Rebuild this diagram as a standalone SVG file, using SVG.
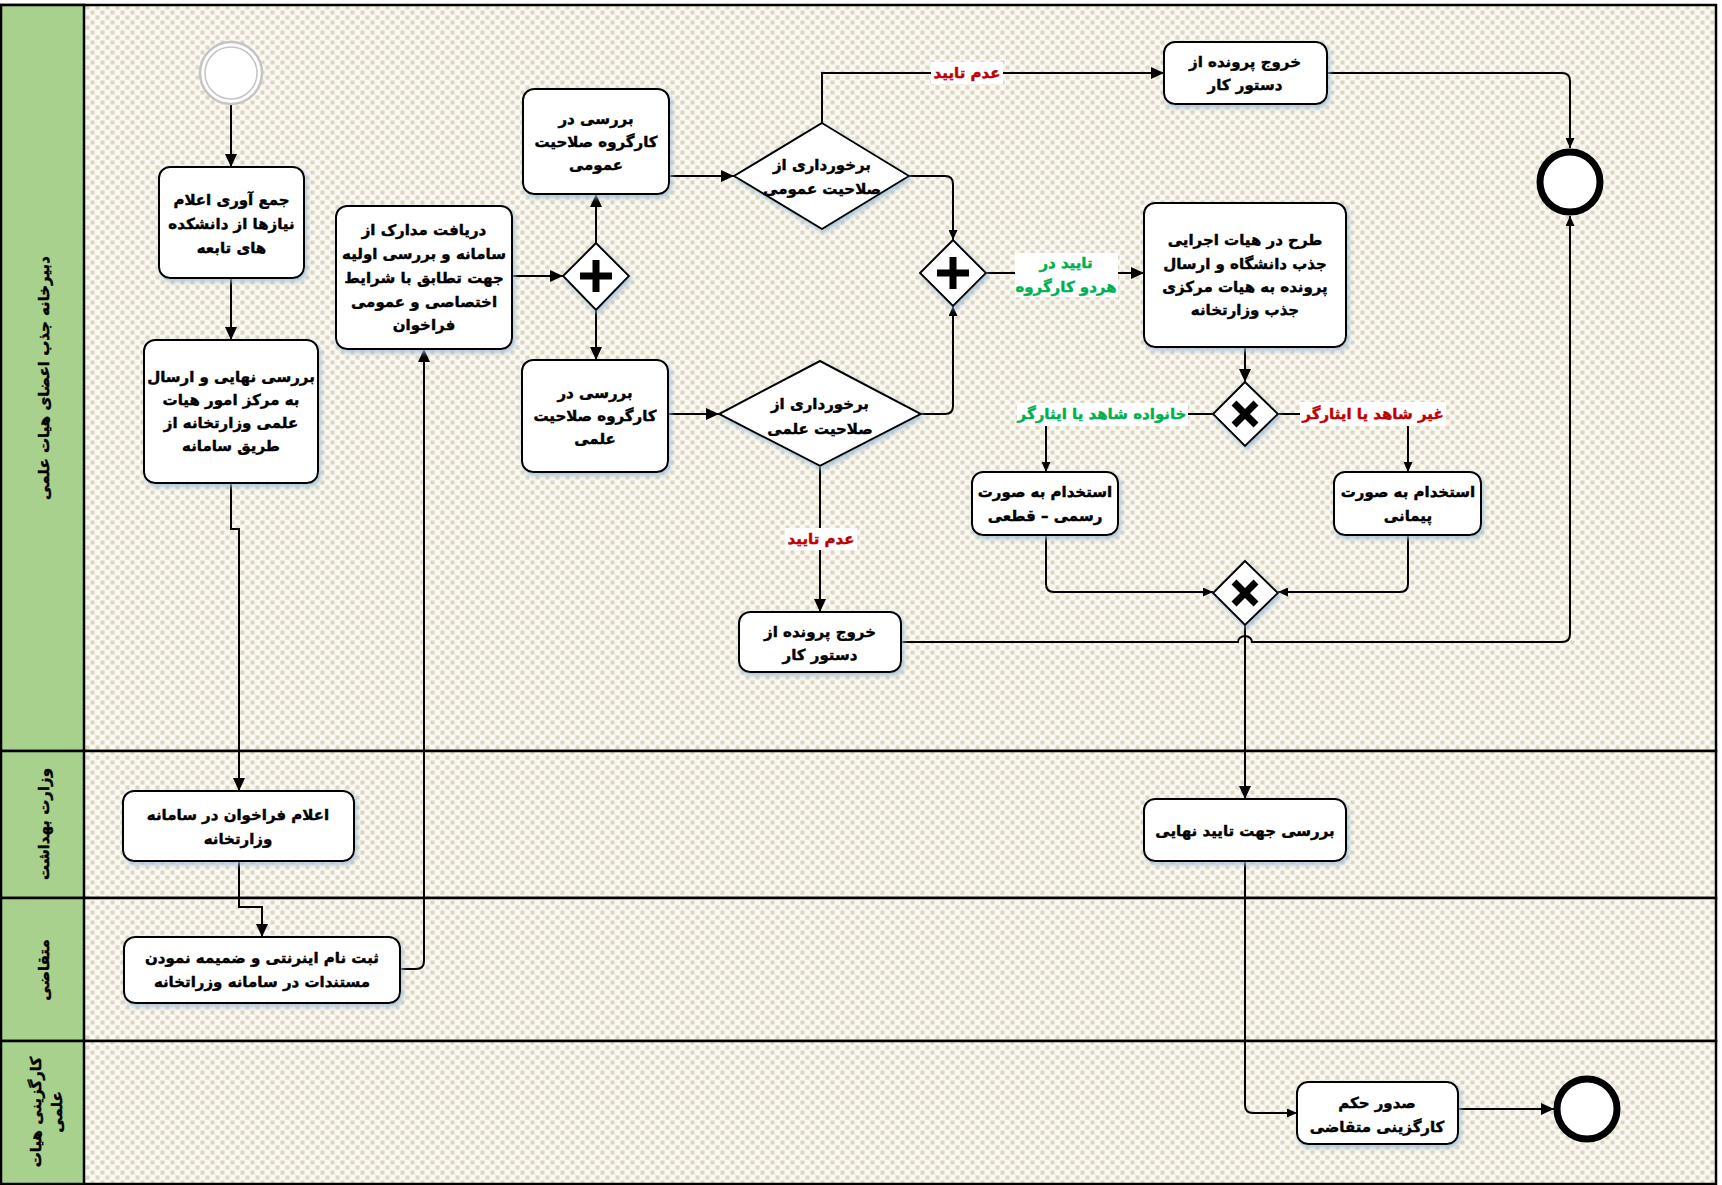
<svg xmlns="http://www.w3.org/2000/svg" width="1722" height="1185" viewBox="0 0 1722 1185">
<defs>
<pattern id="dots" width="10" height="10" patternUnits="userSpaceOnUse">
<rect width="10" height="10" fill="#faf8f2"/>
<rect x="0.5" y="0.5" width="4" height="4" fill="#dcd5bf"/>
<rect x="5.5" y="5.5" width="4" height="4" fill="#dcd5bf"/>
</pattern>
<marker id="arr" markerWidth="13" markerHeight="12" refX="13" refY="6" orient="auto" markerUnits="userSpaceOnUse">
<path d="M0,0 L13,6 L0,12 Z" fill="#000"/>
</marker>
<marker id="arrs" markerWidth="10" markerHeight="9" refX="10" refY="4.5" orient="auto" markerUnits="userSpaceOnUse">
<path d="M0,0 L10,4.5 L0,9 Z" fill="#000"/>
</marker>
<filter id="sh" x="-10%" y="-10%" width="125%" height="130%">
<feDropShadow dx="2" dy="3" stdDeviation="2.5" flood-color="#9fbdd6" flood-opacity="0.8"/>
</filter>
</defs>
<style>
.lane{fill:url(#dots);stroke:#000;stroke-width:2.5}
.hdr{fill:#a9d18e;stroke:#000;stroke-width:2.5}
.task{fill:#fff;stroke:#000;stroke-width:2;filter:url(#sh)}
.gw{fill:#fff;stroke:#000;stroke-width:2;filter:url(#sh)}
.t{font-family:"DejaVu Sans",sans-serif;font-weight:bold;font-size:15px;fill:#000;stroke:#000;stroke-width:0.45;text-anchor:middle;dominant-baseline:central}
.lt{font-family:"DejaVu Sans",sans-serif;font-weight:bold;font-size:15px;fill:#000;stroke:#000;stroke-width:0.45;text-anchor:middle;dominant-baseline:central}
.g{fill:#00b050;stroke:#00b050}
.r{fill:#c00000;stroke:#c00000}
.c{fill:none;stroke:#000;stroke-width:2}
.ca{fill:none;stroke:#000;stroke-width:2;marker-end:url(#arr)}
.cs{fill:none;stroke:#000;stroke-width:2;marker-end:url(#arrs)}
.lbg{fill:#fff}
.mark{stroke:#000;stroke-width:7;fill:none}
</style>

<g id="pool">
<rect class="lane" x="1" y="5" width="1715" height="746"/>
<rect class="lane" x="1" y="751" width="1715" height="147"/>
<rect class="lane" x="1" y="898" width="1715" height="143"/>
<rect class="lane" x="1" y="1041" width="1715" height="143"/>
<rect class="hdr" x="1" y="5" width="83" height="746"/>
<rect class="hdr" x="1" y="751" width="83" height="147"/>
<rect class="hdr" x="1" y="898" width="83" height="143"/>
<rect class="hdr" x="1" y="1041" width="83" height="143"/>
<text class="lt" transform="translate(44,378) rotate(-90)">دبیرخانه جذب اعضای هیات علمی</text>
<text class="lt" transform="translate(44,824) rotate(-90)">وزارت بهداشت</text>
<text class="lt" transform="translate(44,970) rotate(-90)">متقاضی</text>
<text class="lt" transform="translate(36,1112) rotate(-90)">کارگزینی هیات</text>
<text class="lt" transform="translate(57,1112) rotate(-90)">علمی</text>
</g>

<g id="connectors">
<path class="ca" d="M231,104 V167"/>
<path class="ca" d="M231,278 V340"/>
<path class="ca" d="M231,483 V529 H239 V791"/>
<path class="ca" d="M239,861 V907 H262 V937"/>
<path class="ca" d="M400,969 H416 Q424,969 424,961 V349"/>
<path class="ca" d="M512,276 H563"/>
<path class="ca" d="M596,243 V194"/>
<path class="ca" d="M596,310 V360"/>
<path class="ca" d="M669,176 H734"/>
<path class="ca" d="M668,414 H719"/>
<path class="ca" d="M822,123 V73 H1164"/>
<path class="cs" d="M1327,73 H1562 Q1570,73 1570,81 V148"/>
<path class="cs" d="M909,176 H945 Q953,176 953,184 V240"/>
<path class="cs" d="M921,414 H945 Q953,414 953,406 V306"/>
<path class="ca" d="M820,466 V612"/>
<path class="ca" d="M986,273 H1144"/>
<path class="ca" d="M1245,347 V382"/>
<path class="cs" d="M1213,414 H1054 Q1046,414 1046,422 V472"/>
<path class="cs" d="M1278,414 H1400 Q1408,414 1408,422 V472"/>
<path class="cs" d="M1046,535 V584 Q1046,592 1054,592 H1213"/>
<path class="cs" d="M1408,535 V584 Q1408,592 1400,592 H1278"/>
<path class="ca" d="M1245,625 V799"/>
<path class="cs" d="M901,642 H1238 A7,6 0 0 1 1252,642 H1562 Q1570,642 1570,634 V216"/>
<path class="cs" d="M1245,861 V1105 Q1245,1113 1253,1113 H1297"/>
<path class="ca" d="M1458,1109 H1554"/>
<rect class="lbg" x="931" y="62" width="72" height="22"/>
<text class="t r" x="967" y="73">عدم تایید</text>
<rect class="lbg" x="785" y="528" width="72" height="22"/>
<text class="t r" x="821" y="539">عدم تایید</text>
<rect class="lbg" x="1015" y="253" width="103" height="44"/>
<text class="t g" x="1066" y="263">تایید در</text>
<text class="t g" x="1066" y="287">هردو کارگروه</text>
<rect class="lbg" x="1017" y="403" width="171" height="23"/>
<text class="t g" x="1102" y="414">خانواده شاهد یا ایثارگر</text>
<rect class="lbg" x="1300" y="402" width="146" height="24"/>
<text class="t r" x="1373" y="414">غیر شاهد یا ایثارگر</text>
</g>

<g id="start">
<circle cx="231" cy="73" r="31" fill="#fff" stroke="#c4c4c4" stroke-width="2.5"/>
<circle cx="231" cy="73" r="26" fill="#fff" stroke="#c4c4c4" stroke-width="1.5"/>
</g>

<g id="t-collect">
<rect class="task" x="159" y="167" width="145" height="111" rx="11"/>
<text class="t" x="231.5" y="200">جمع آوری اعلام</text>
<text class="t" x="231.5" y="224">نیازها از دانشکده</text>
<text class="t" x="231.5" y="248">های تابعه</text>
</g>

<g id="t-final-send">
<rect class="task" x="144" y="340" width="174" height="143" rx="11"/>
<text class="t" x="231" y="377">بررسی نهایی و ارسال</text>
<text class="t" x="231" y="400">به مرکز امور هیات</text>
<text class="t" x="231" y="423">علمی وزارتخانه از</text>
<text class="t" x="231" y="446">طریق سامانه</text>
</g>

<g id="t-receive">
<rect class="task" x="336" y="206" width="176" height="143" rx="11"/>
<text class="t" x="424" y="230">دریافت مدارک از</text>
<text class="t" x="424" y="254">سامانه و بررسی اولیه</text>
<text class="t" x="424" y="278">جهت تطابق با شرایط</text>
<text class="t" x="424" y="302">اختصاصی و عمومی</text>
<text class="t" x="424" y="325">فراخوان</text>
</g>

<g id="gw-split">
<path class="gw" d="M596,243 L629,276 L596,310 L563,276 Z"/>
<path class="mark" d="M596,260 V292 M580,276 H612"/>
</g>

<g id="t-general">
<rect class="task" x="523" y="89" width="146" height="105" rx="11"/>
<text class="t" x="596" y="119">بررسی در</text>
<text class="t" x="596" y="142">کارگروه صلاحیت</text>
<text class="t" x="596" y="165">عمومی</text>
</g>

<g id="t-scientific">
<rect class="task" x="522" y="360" width="146" height="112" rx="11"/>
<text class="t" x="595" y="393">بررسی در</text>
<text class="t" x="595" y="416">کارگروه صلاحیت</text>
<text class="t" x="595" y="439">علمی</text>
</g>

<g id="d-general">
<path class="gw" d="M822,123 L909,176 L822,229 L734,176 Z"/>
<text class="t" x="822" y="165">برخورداری از</text>
<text class="t" x="822" y="189">صلاحیت عمومی</text>
</g>

<g id="d-scientific">
<path class="gw" d="M820,361 L921,414 L820,466 L719,414 Z"/>
<text class="t" x="820" y="404">برخورداری از</text>
<text class="t" x="820" y="429">صلاحیت علمی</text>
</g>

<g id="gw-join">
<path class="gw" d="M953,240 L986,273 L953,306 L920,273 Z"/>
<path class="mark" d="M953,257 V289 M937,273 H969"/>
</g>

<g id="t-exit-top">
<rect class="task" x="1164" y="42" width="163" height="62" rx="11"/>
<text class="t" x="1245" y="62">خروج پرونده از</text>
<text class="t" x="1245" y="85">دستور کار</text>
</g>

<g id="end-top">
<circle cx="1570" cy="182" r="30" fill="#fff" stroke="#000" stroke-width="7"/>
</g>

<g id="t-board">
<rect class="task" x="1144" y="203" width="202" height="144" rx="11"/>
<text class="t" x="1245" y="240">طرح در هیات اجرایی</text>
<text class="t" x="1245" y="264">جذب دانشگاه و ارسال</text>
<text class="t" x="1245" y="287">پرونده به هیات مرکزی</text>
<text class="t" x="1245" y="310">جذب وزارتخانه</text>
</g>

<g id="x-split">
<path class="gw" d="M1245,382 L1278,414 L1245,446 L1213,414 Z"/>
<path class="mark" d="M1234,403 L1256,425 M1256,403 L1234,425"/>
</g>

<g id="t-official">
<rect class="task" x="972" y="472" width="146" height="63" rx="11"/>
<text class="t" x="1045" y="492">استخدام به صورت</text>
<text class="t" x="1045" y="516">رسمی – قطعی</text>
</g>

<g id="t-contract">
<rect class="task" x="1334" y="472" width="147" height="63" rx="11"/>
<text class="t" x="1408" y="492">استخدام به صورت</text>
<text class="t" x="1408" y="516">پیمانی</text>
</g>

<g id="x-join">
<path class="gw" d="M1245,561 L1278,593 L1245,625 L1213,593 Z"/>
<path class="mark" d="M1234,582 L1256,604 M1256,582 L1234,604"/>
</g>

<g id="t-exit-bottom">
<rect class="task" x="739" y="612" width="162" height="60" rx="11"/>
<text class="t" x="820" y="632">خروج پرونده از</text>
<text class="t" x="820" y="655">دستور کار</text>
</g>

<g id="t-ministry-review">
<rect class="task" x="1144" y="799" width="202" height="62" rx="11"/>
<text class="t" x="1245" y="831">بررسی جهت تایید نهایی</text>
</g>

<g id="t-decree">
<rect class="task" x="1297" y="1082" width="161" height="62" rx="11"/>
<text class="t" x="1377" y="1103">صدور حکم</text>
<text class="t" x="1377" y="1127">کارگزینی متقاضی</text>
</g>

<g id="end-bottom">
<circle cx="1587" cy="1109" r="30" fill="#fff" stroke="#000" stroke-width="7"/>
</g>

<g id="t-announce">
<rect class="task" x="123" y="791" width="231" height="70" rx="11"/>
<text class="t" x="238" y="815">اعلام فراخوان در سامانه</text>
<text class="t" x="238" y="839">وزارتخانه</text>
</g>

<g id="t-register">
<rect class="task" x="124" y="937" width="276" height="66" rx="11"/>
<text class="t" x="262" y="958">ثبت نام اینرنتی و ضمیمه نمودن</text>
<text class="t" x="262" y="982">مستندات در  سامانه وزراتخانه</text>
</g>
</svg>
